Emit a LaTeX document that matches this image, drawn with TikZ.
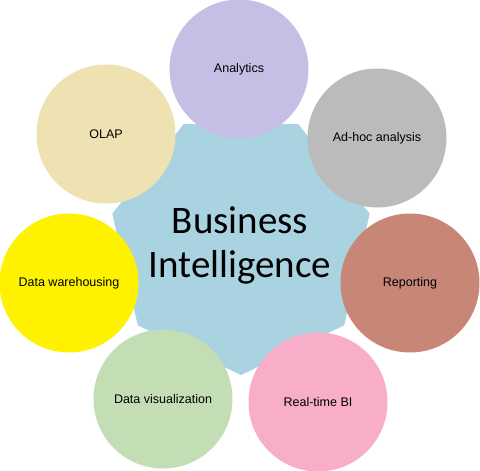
\documentclass[tikz,border=0pt]{standalone}
\usepackage{fontspec}
\setmainfont{Liberation Sans}
\newfontfamily\bifont{Carlito}
\usetikzlibrary{shapes.geometric}
\definecolor{biblue}{HTML}{A9D3E1}
\definecolor{cpurple}{HTML}{C6BFE5}
\definecolor{cgray}{HTML}{BBBBBB}
\definecolor{cbrown}{HTML}{C78676}
\definecolor{cpink}{HTML}{F8ADC8}
\definecolor{cgreen}{HTML}{C3DEB5}
\definecolor{cyellow}{HTML}{FFF200}
\definecolor{cbeige}{HTML}{EEE2B3}
\tikzset{
  hub/.style={regular polygon, regular polygon sides=7, shape border rotate=180,
    minimum size=264pt, inner sep=0pt, outer sep=0pt, fill=biblue, align=center,
    font=\bifont\fontsize{39}{44}\selectfont},
  spoke/.style={circle, minimum size=139pt, inner sep=0pt, outer sep=0pt,
    font=\fontsize{12.5}{15}\selectfont}
}
\begin{document}
\begin{tikzpicture}[x=1pt,y=-1pt]
\useasboundingbox (0,0) rectangle (480,471);
\fill[white] (0,0) rectangle (480,471);
\node[hub] (bi) at (241,243) {};
\node (bitext) at (240,245) [align=center, font=\bifont\fontsize{39}{44}\selectfont] {Business\\Intelligence};
\node[spoke, fill=cpurple] (analytics) at (239,69) {Analytics};
\node[spoke, fill=cgray]   (adhoc)     at (377,138) {Ad-hoc analysis};
\node[spoke, fill=cbrown]  (reporting) at (410,283) {Reporting};
\node[spoke, fill=cpink]   (realtime)  at (318,402) {Real-time BI};
\node[spoke, fill=cgreen]  (datavis)   at (163,399) {Data visualization};
\node[spoke, fill=cyellow] (datawh)    at (69,283)  {Data warehousing};
\node[spoke, fill=cbeige]  (olap)      at (106,134) {OLAP};
\end{tikzpicture}
\end{document}
